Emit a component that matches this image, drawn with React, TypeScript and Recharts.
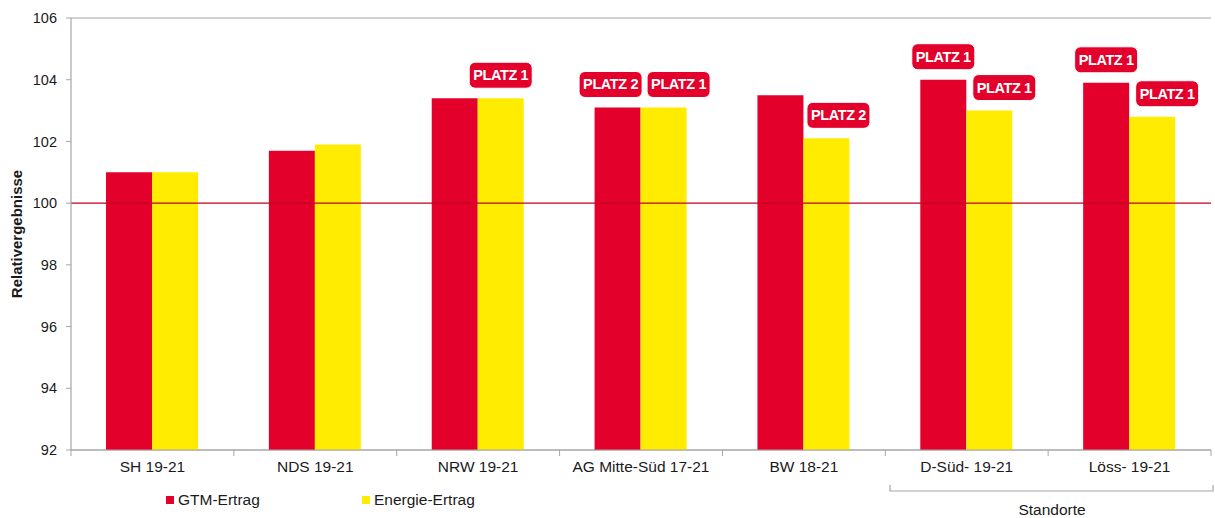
import React from "react";
import {
  BarChart,
  Bar,
  XAxis,
  YAxis,
  CartesianGrid,
  ReferenceLine,
  LabelList,
} from "recharts";

const categories = [
  "SH 19-21",
  "NDS 19-21",
  "NRW 19-21",
  "AG Mitte-Süd 17-21",
  "BW 18-21",
  "D-Süd- 19-21",
  "Löss- 19-21",
];
const gtmValues = [101.0, 101.7, 103.4, 103.1, 103.5, 104.0, 103.9];
const energieValues = [101.0, 101.9, 103.4, 103.1, 102.1, 103.0, 102.8];
const gtmBadges = ["", "", "", "PLATZ 2", "", "PLATZ 1", "PLATZ 1"];
const energieBadges = ["", "", "PLATZ 1", "PLATZ 1", "PLATZ 2", "PLATZ 1", "PLATZ 1"];
const yTicks = [92, 94, 96, 98, 100, 102, 104, 106];

const RED = "#e3002b";
const YELLOW = "#ffec00";
const GRID = "#a6a6a6";
const FONT = "'Liberation Sans', Arial, sans-serif";

const W = 1215;
const H = 518;
const X_AXIS_H = 30;
const M = { top: 18, right: 4, bottom: 68 - X_AXIS_H, left: 0 };
const Y_AXIS_W = 71;
const PLOT_W = W - M.right - Y_AXIS_W;
const BAND = PLOT_W / categories.length;

const data = categories.map((c, i) => ({
  name: c,
  gtm: gtmValues[i],
  energie: energieValues[i],
  gtmBadge: gtmBadges[i],
  energieBadge: energieBadges[i],
}));

const Badge = ({ cx, cy, text }: { cx: number; cy: number; text: string }) => {
  const bw = 63;
  const bh = 26;
  return (
    <g>
      <rect x={cx - bw / 2} y={cy - bh / 2} width={bw} height={bh} rx={6} ry={6} fill={RED} stroke="#ffffff" strokeWidth={1} />
      <text
        x={cx}
        y={cy + 5}
        textAnchor="middle"
        fill="#ffffff"
        fontFamily={FONT}
        fontWeight="bold"
        fontSize={14.5}
        letterSpacing={-0.4}
      >
        {text}
      </text>
    </g>
  );
};

const makeBadgeContent = (series: "gtm" | "energie") => (props: any) => {
  const { x, y, width, value, index } = props;
  if (!value) return null;
  const d = data[index];
  let dx = 0;
  if (series === "energie") {
    if (d.gtmBadge) dx = 15;
    else if (d.gtm > d.energie) dx = 12;
  } else {
    if (d.energieBadge && Math.abs(d.gtm - d.energie) < 0.3) dx = -7;
  }
  const cx = Number(x) + Number(width) / 2 + dx;
  const cy = Number(y) - 23;
  return <Badge cx={cx} cy={cy} text={String(value)} />;
};

const XTick = (props: any) => {
  const { x, y, payload, index } = props;
  const half = BAND / 2;
  return (
    <g>
      <line x1={x - half} y1={y - 8} x2={x - half} y2={y - 2} stroke={GRID} strokeWidth={1} />
      {index === categories.length - 1 && (
        <line x1={x + half} y1={y - 8} x2={x + half} y2={y - 2} stroke={GRID} strokeWidth={1} />
      )}
      <text x={x} y={y + 14} textAnchor="middle" fill="#1a1a1a" fontFamily={FONT} fontSize={15.5}>
        {payload.value}
      </text>
    </g>
  );
};

export default function App() {
  return (
    <div style={{ position: "absolute", left: 0, top: 0, width: W, height: H, background: "#ffffff" }}>
      <BarChart
        width={W}
        height={H}
        data={data}
        margin={M}
        barCategoryGap="21.5%"
        barGap={0}
      >
        <CartesianGrid vertical={false} stroke={GRID} strokeWidth={1.2} />
        <XAxis
          dataKey="name"
          tick={<XTick />}
          tickLine={false}
          axisLine={{ stroke: GRID, strokeWidth: 1.2 }}
          interval={0}
          height={X_AXIS_H}
        />
        <YAxis
          yAxisId="left"
          domain={[92, 106]}
          ticks={yTicks}
          interval={0}
          width={Y_AXIS_W}
          axisLine={{ stroke: GRID, strokeWidth: 1.2 }}
          tickLine={{ stroke: GRID }}
          tickSize={5}
          tickMargin={9}
          tick={{ fill: "#1a1a1a", fontFamily: FONT, fontSize: 14.5 }}
          allowDataOverflow
          label={{
            value: "Relativergebnisse",
            angle: -90,
            position: "insideLeft",
            dx: 12,
            style: { fontFamily: FONT, fontWeight: "bold", fontSize: 15, fill: "#1a1a1a", textAnchor: "middle" },
          }}
        />
        <YAxis
          yAxisId="right"
          orientation="right"
          domain={[92, 106]}
          width={0}
          tick={false}
          tickLine={false}
          axisLine={{ stroke: GRID, strokeWidth: 1.2 }}
        />
        <ReferenceLine yAxisId="left" y={100} stroke="#c0001f" strokeWidth={1.2} />
        <Bar yAxisId="left" dataKey="gtm" fill={RED} isAnimationActive={false}>
          <LabelList dataKey="gtmBadge" content={makeBadgeContent("gtm")} />
        </Bar>
        <Bar yAxisId="left" dataKey="energie" fill={YELLOW} isAnimationActive={false}>
          <LabelList dataKey="energieBadge" content={makeBadgeContent("energie")} />
        </Bar>
      </BarChart>
      <svg
        width={W}
        height={H}
        style={{ position: "absolute", left: 0, top: 0, pointerEvents: "none" }}
      >
        <rect x={166} y={496} width={8} height={8} fill={RED} />
        <text x={178} y={505} fontFamily={FONT} fontSize={15.5} fill="#1a1a1a">
          GTM-Ertrag
        </text>
        <rect x={362} y={496} width={8} height={8} fill={YELLOW} />
        <text x={374} y={505} fontFamily={FONT} fontSize={15.5} fill="#1a1a1a">
          Energie-Ertrag
        </text>
        <path d="M890 485 L890 491 L1213 491 L1213 485" fill="none" stroke={GRID} strokeWidth={1.2} />
        <text x={1052} y={515} textAnchor="middle" fontFamily={FONT} fontSize={15.5} fill="#1a1a1a">
          Standorte
        </text>
      </svg>
    </div>
  );
}
